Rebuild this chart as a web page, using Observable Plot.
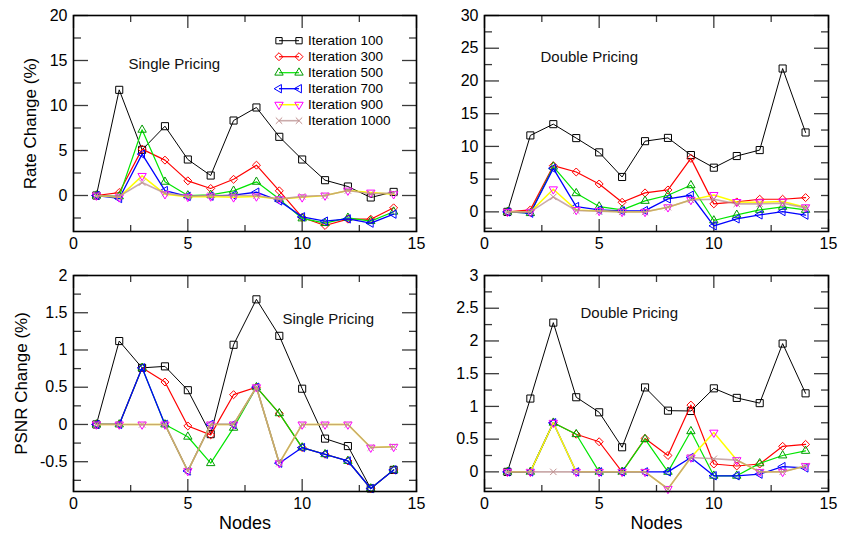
<!DOCTYPE html>
<html><head><meta charset="utf-8">
<script src="https://cdn.jsdelivr.net/npm/d3@7"></script>
<script src="https://cdn.jsdelivr.net/npm/@observablehq/plot@0.6"></script>
<style>
body{margin:0;background:#fff;}
#fig{position:relative;width:842px;height:535px;font-family:"Liberation Sans",Arial,sans-serif;}
#fig > div{position:absolute;}
</style></head><body><div id="fig"></div>
<script>
// ---------- data ----------
const nodes = [1,2,3,4,5,6,7,8,9,10,11,12,13,14];
const iterations = ["Iteration 100","Iteration 300","Iteration 500","Iteration 700","Iteration 900","Iteration 1000"];

// Rate change, single pricing
const rateSingle100  = [0, 11.74, 5.07, 7.7, 4.0, 2.22, 8.33, 9.78, 6.52, 4.0, 1.7, 1.0, -0.22, 0.4];
const rateSingle300  = [0, 0.33, 5.15, 3.93, 1.63, 0.78, 1.8, 3.37, 0.52, -2.44, -3.33, -2.63, -2.63, -1.37];
const rateSingle500  = [0, -0.1, 7.3, 1.52, 0, 0.07, 0.52, 1.52, -0.4, -2.55, -3.07, -2.48, -2.85, -1.8];
const rateSingle700  = [0, -0.33, 4.6, 0.55, -0.1, -0.07, 0.04, 0.37, -0.6, -2.37, -2.85, -2.6, -3.07, -2.07];
const rateSingle900  = [0, -0.2, 2.18, 0.15, -0.15, -0.1, -0.2, -0.1, -0.4, -0.2, 0, 0.55, 0.33, 0.15];
const rateSingle1000 = [0, -0.1, 1.44, 0.26, -0.07, 0, 0, 0, -0.4, -0.1, 0, 0.55, 0.2, 0.26];

// Rate change, double pricing
const rateDouble100  = [0, 11.68, 13.4, 11.27, 9.09, 5.33, 10.8, 11.3, 8.68, 6.75, 8.53, 9.44, 21.9, 12.13];
const rateDouble300  = [0, 0.3, 7.06, 6.09, 4.26, 1.47, 2.9, 3.35, 8.17, 1.22, 1.52, 1.93, 1.93, 2.18];
const rateDouble500  = [0, -0.2, 6.9, 2.84, 0.81, 0.3, 1.67, 2.54, 4.06, -1.32, -0.46, 0.3, 0.76, 0.3];
const rateDouble700  = [0, -0.2, 6.65, 0.81, 0.3, 0.15, 0.2, 1.98, 2.54, -2.13, -1.07, -0.46, 0.05, -0.5];
const rateDouble900  = [0, 0, 3.45, 0.3, 0.15, 0, 0, 0.71, 1.83, 2.59, 1.52, 1.47, 1.57, 0.71];
const rateDouble1000 = [0, 0, 2.28, 0.2, 0.1, 0, 0, 0.71, 1.83, 1.93, 1.22, 1.22, 1.32, 0.61];

// PSNR change, single pricing
const psnrSingle100  = [0, 1.12, 0.76, 0.78, 0.46, -0.13, 1.07, 1.68, 1.19, 0.48, -0.19, -0.29, -0.86, -0.61];
const psnrSingle300  = [0, 0, 0.76, 0.57, -0.02, -0.14, 0.4, 0.5, 0.15, -0.31, -0.4, -0.49, -0.86, -0.61];
const psnrSingle500  = [0, 0, 0.76, 0, -0.165, -0.52, -0.045, 0.5, 0.15, -0.31, -0.4, -0.49, -0.86, -0.61];
const psnrSingle700  = [0, 0, 0.76, 0, -0.625, 0, 0, 0.5, -0.52, -0.31, -0.4, -0.49, -0.86, -0.61];
const psnrSingle900  = [0, 0, 0, 0, -0.625, 0, 0, 0.5, -0.52, 0, 0, 0, -0.31, -0.3];
const psnrSingle1000 = [0, 0, 0, 0, -0.625, 0, 0, 0.5, -0.52, 0, 0, 0, -0.31, -0.3];

// PSNR change, double pricing
const psnrDouble100  = [0, 1.12, 2.28, 1.14, 0.91, 0.376, 1.29, 0.935, 0.93, 1.276, 1.13, 1.05, 1.96, 1.2];
const psnrDouble300  = [0, 0, 0.75, 0.575, 0.46, 0, 0.51, 0.25, 1.02, 0.12, 0.09, 0.12, 0.39, 0.42];
const psnrDouble500  = [0, 0, 0.75, 0.575, 0, 0, 0.5, 0, 0.62, -0.06, -0.06, 0.13, 0.25, 0.32];
const psnrDouble700  = [0, 0, 0.75, 0, 0, 0, 0, 0, 0.22, -0.06, -0.06, -0.035, 0.08, 0.06];
const psnrDouble900  = [0, 0, 0.75, 0, 0, 0, 0, -0.26, 0.22, 0.6, 0.18, 0, 0, 0.09];
const psnrDouble1000 = [0, 0, 0, 0, 0, 0, 0, -0.26, 0.22, 0.2, 0.18, 0, 0, 0.09];

// axis ticks
const xMajor = [0, 5, 10, 15];
const xMinor = [2.5, 7.5, 12.5];
const rateSingleMajor = [0, 5, 10, 15, 20];
const rateSingleMinor = [-2.5, 2.5, 7.5, 12.5, 17.5];
const rateDoubleMajor = [0, 5, 10, 15, 20, 25, 30];
const rateDoubleMinor = [-2.5, 2.5, 7.5, 12.5, 17.5, 22.5, 27.5];
const psnrSingleMajor = [-0.5, 0, 0.5, 1, 1.5, 2];
const psnrSingleMinor = [-0.75, -0.25, 0.25, 0.75, 1.25, 1.75];
const psnrDoubleMajor = [0, 0.5, 1, 1.5, 2, 2.5, 3];
const psnrDoubleMinor = [-0.25, 0.25, 0.75, 1.25, 1.75, 2.25, 2.75];

// ---------- styles ----------
function triDown(){ return {draw(c, size){ const s=Math.sqrt(size)*0.6824, t=s/2, u=s*Math.sqrt(3)/2; c.moveTo(0,s); c.lineTo(-u,-t); c.lineTo(u,-t); c.closePath(); }}; }
function triLeft(){ return {draw(c, size){ const s=Math.sqrt(size)*0.6824, t=s/2, u=s*Math.sqrt(3)/2; c.moveTo(-s,0); c.lineTo(t,-u); c.lineTo(t,u); c.closePath(); }}; }
const styles = [
  {line:"#000000", mark:"#000000", symbol:"square",  d3sym:d3.symbolSquare2,  r:4,   lw:1,   op:1},
  {line:"#ff0000", mark:"#ff0000", symbol:"diamond2", d3sym:d3.symbolDiamond2, r:3.6, lw:1.2, op:1},
  {line:"#00e600", mark:"#009a00", symbol:"triangle2",d3sym:d3.symbolTriangle2,r:4,   lw:1.2, op:1},
  {line:"#0000ff", mark:"#0000ff", symbol:triLeft(),  d3sym:triLeft(),         r:4,   lw:1.3, op:1},
  {line:"#ffff00", mark:"#ff00ff", symbol:triDown(),  d3sym:triDown(),         r:4,   lw:1.5, op:1},
  {line:"#b88f8f", mark:"#c09090", symbol:"times",    d3sym:d3.symbolTimes,    r:3,   lw:1.6, op:0.75}
];

const FONT = '"Liberation Sans", Arial, sans-serif';
const W = 421;

function panel({series, yDomain, yMajor, yMinor, note, noteDx, noteDy, ylabel, ylabelDx, xlabel, height, marginLeft, marginRight, marginBottom}) {
  const marginTop = 15;
  const fw = W - marginLeft - marginRight;
  const fh = height - marginTop - marginBottom;
  const marks = [];
  const tk = {fill:"none", label:null, stroke:"#3a3a3a", strokeWidth:1.3};
  // inward ticks on all four sides (axis on the opposite side, shifted across the frame)
  marks.push(Plot.axisX(xMajor, {...tk, anchor:"top", tickSize:13, dy: fh}));
  marks.push(Plot.axisX(xMinor, {...tk, anchor:"top", tickSize:7, dy: fh}));
  marks.push(Plot.axisX(xMajor, {...tk, anchor:"bottom", tickSize:13, dy: -fh}));
  marks.push(Plot.axisX(xMinor, {...tk, anchor:"bottom", tickSize:7, dy: -fh}));
  marks.push(Plot.axisY(yMajor, {...tk, anchor:"right", tickSize:14, dx: -fw}));
  marks.push(Plot.axisY(yMinor, {...tk, anchor:"right", tickSize:7, dx: -fw}));
  marks.push(Plot.axisY(yMajor, {...tk, anchor:"left", tickSize:14, dx: fw}));
  marks.push(Plot.axisY(yMinor, {...tk, anchor:"left", tickSize:7, dx: fw}));
  // tick labels
  marks.push(Plot.axisX(xMajor, {anchor:"bottom", tickSize:0, tickPadding:6, stroke:"none", fontSize:16, label:null}));
  marks.push(Plot.axisY(yMajor, {anchor:"left", tickSize:0, tickPadding:6, stroke:"none", fontSize:16,
    tickFormat: d => String(d), label:null}));
  series.forEach((vals, k) => {
    const st = styles[k];
    const data = nodes.map((n, i) => ({n, v: vals[i]}));
    marks.push(Plot.line(data, {x:"n", y:"v", stroke:st.line, strokeWidth:st.lw, strokeOpacity:st.op}));
    marks.push(Plot.dot(data, {x:"n", y:"v", symbol:st.symbol, r:st.r, stroke:st.mark, fill:"none", strokeWidth:1}));
  });
  marks.push(Plot.frame({stroke:"#000", strokeWidth:1.6}));
  marks.push(Plot.text([note], {frameAnchor:"top-left", dx:noteDx, dy:noteDy, textAnchor:"start", lineAnchor:"middle", fontSize:15, fill:"#111"}));
  if (ylabel) marks.push(Plot.text([ylabel], {frameAnchor:"left", dx:ylabelDx, rotate:-90, lineAnchor:"middle", textAnchor:"middle", fontSize:17, fill:"#000"}));
  if (xlabel) marks.push(Plot.text([xlabel], {frameAnchor:"bottom", dy:32, lineAnchor:"middle", textAnchor:"middle", fontSize:18, fill:"#000"}));
  return Plot.plot({
    width: W, height,
    marginTop, marginBottom, marginLeft, marginRight,
    style: {fontFamily: FONT, fontSize: "16px", color: "#000", background: "transparent", overflow: "visible"},
    x: {domain:[0,15]},
    y: {domain: yDomain},
    marks
  });
}

const fig = document.getElementById("fig");
function place(el, left, top){ const d=document.createElement("div"); d.style.left=left+"px"; d.style.top=top+"px"; d.appendChild(el); fig.appendChild(d); return el; }

const tl = place(panel({
  series:[rateSingle100,rateSingle300,rateSingle500,rateSingle700,rateSingle900,rateSingle1000],
  yDomain:[-4,20], yMajor:rateSingleMajor, yMinor:rateSingleMinor,
  note:"Single Pricing", noteDx:55, noteDy:49,
  ylabel:"Rate Change (%)", ylabelDx:-43,
  height:260, marginLeft:73, marginRight:5, marginBottom:29}), 0, 0);

place(panel({
  series:[rateDouble100,rateDouble300,rateDouble500,rateDouble700,rateDouble900,rateDouble1000],
  yDomain:[-3,30], yMajor:rateDoubleMajor, yMinor:rateDoubleMinor,
  note:"Double Pricing", noteDx:56, noteDy:42,
  height:260, marginLeft:63, marginRight:14, marginBottom:29}), 421, 0);

place(panel({
  series:[psnrSingle100,psnrSingle300,psnrSingle500,psnrSingle700,psnrSingle900,psnrSingle1000],
  yDomain:[-0.9,2], yMajor:psnrSingleMajor, yMinor:psnrSingleMinor,
  note:"Single Pricing", noteDx:209, noteDy:44,
  ylabel:"PSNR Change (%)", ylabelDx:-52, xlabel:"Nodes",
  height:275, marginLeft:73, marginRight:5, marginBottom:44}), 0, 260);

place(panel({
  series:[psnrDouble100,psnrDouble300,psnrDouble500,psnrDouble700,psnrDouble900,psnrDouble1000],
  yDomain:[-0.3,3], yMajor:psnrDoubleMajor, yMinor:psnrDoubleMinor,
  note:"Double Pricing", noteDx:96, noteDy:38, xlabel:"Nodes",
  height:275, marginLeft:63, marginRight:14, marginBottom:44}), 421, 260);

// legend inside the top-left panel
const svg = d3.select(tl);
const lg = svg.append("g").attr("font-family", FONT).attr("font-size", 13.5).attr("text-anchor", "start");
iterations.forEach((name, k) => {
  const st = styles[k];
  const y = 40.7 + k * 16;
  lg.append("line").attr("x1", 279).attr("x2", 299).attr("y1", y).attr("y2", y)
    .attr("stroke", st.line).attr("stroke-width", st.lw).attr("stroke-opacity", st.op);
  for (const x of [279, 299]) {
    lg.append("path").attr("transform", `translate(${x},${y})`)
      .attr("d", d3.symbol(st.d3sym, Math.PI * st.r * st.r)())
      .attr("fill", "none").attr("stroke", st.mark).attr("stroke-width", 1);
  }
  lg.append("text").attr("x", 308).attr("y", y).attr("dy", "0.35em").attr("fill", "#000").style("text-anchor", "start").text(name);
});
</script>
</body></html>
